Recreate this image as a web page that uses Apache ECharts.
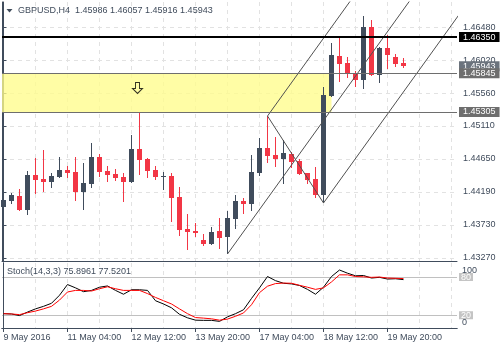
<!DOCTYPE html>
<html><head><meta charset="utf-8">
<script src="https://cdn.jsdelivr.net/npm/echarts@6/dist/echarts.min.js"></script>
<style>html,body{margin:0;padding:0;background:#fff}#c{width:500px;height:350px}</style>
</head><body><div id="c"></div>
<script>
const symbolName = 'GBPUSD,H4';
const barOpen = [1.43985,1.44069,1.44134,1.43939,1.44427,1.44371,1.44334,1.44403,1.44497,1.44469,1.44194,1.44306,1.44678,1.44483,1.44441,1.44399,1.44334,1.44789,1.44650,1.44497,1.44406,1.44413,1.44120,1.43674,1.43646,1.43521,1.43469,1.43646,1.43567,1.43818,1.44069,1.44016,1.44459,1.44803,1.44706,1.44654,1.44720,1.44626,1.44451,1.44375,1.44148,1.45528,1.46086,1.45988,1.45835,1.45751,1.46486,1.45821,1.46201,1.46072,1.45986];
const barHigh = [1.44172,1.44180,1.44232,1.44483,1.44660,1.44775,1.44451,1.44678,1.44552,1.44678,1.44598,1.44873,1.44720,1.44552,1.44511,1.44455,1.44985,1.45301,1.44664,1.44557,1.44469,1.44459,1.44260,1.43883,1.43758,1.43605,1.43702,1.43832,1.43925,1.44148,1.44113,1.44699,1.44947,1.45249,1.44957,1.44911,1.44748,1.44650,1.44459,1.44534,1.45649,1.46263,1.46358,1.46076,1.45877,1.46643,1.46588,1.46211,1.46378,1.46107,1.46057];
const barLow = [1.43823,1.44023,1.43932,1.43869,1.44162,1.44194,1.44246,1.44392,1.44385,1.44069,1.43939,1.44246,1.44403,1.44334,1.44343,1.44055,1.44320,1.44427,1.44389,1.44357,1.44218,1.43776,1.43581,1.43386,1.43563,1.43442,1.43451,1.43396,1.43326,1.43670,1.43883,1.43925,1.44413,1.44598,1.44543,1.44302,1.44525,1.44427,1.44306,1.44113,1.44037,1.45514,1.45730,1.45775,1.45654,1.45619,1.45807,1.45714,1.45905,1.45932,1.45916];
const barClose = [1.44079,1.44148,1.43939,1.44427,1.44357,1.44334,1.44413,1.44497,1.44459,1.44194,1.44315,1.44678,1.44473,1.44427,1.44389,1.44334,1.44789,1.44636,1.44483,1.44403,1.44413,1.44111,1.43665,1.43637,1.43619,1.43469,1.43628,1.43553,1.43832,1.44065,1.44016,1.44469,1.44803,1.44696,1.44654,1.44729,1.44615,1.44441,1.44357,1.44148,1.45542,1.46100,1.45974,1.45828,1.45751,1.46494,1.45821,1.46197,1.46100,1.45974,1.45943];
const stochK = [22.5,22,19.5,25,30,34,38.8,51.4,68.2,63,57,59,64,66,59,53,60,60,59,42.8,37.7,31.7,21.5,16,12.3,12,12,10.4,17.5,22.5,28.6,46.4,63,80.8,74.3,70.2,69.2,66.7,60.6,53,64,80.8,91,86,81.9,82.4,78.4,79.5,76.8,77.3,75.8961];
const stochD = [22.5,22,21,24,26.6,30,34,43.8,56.5,59,59,58,61.6,64.7,61.6,59,59,59,54,48,42.8,37.7,30,22.5,16.4,15.5,14.4,12.3,14,18.4,23.6,36.5,55.5,65.6,69.7,70.5,70.2,67,64,60.6,63,72.3,83.4,83.4,80.8,80.3,79.5,80,78.4,78,77.5201];
const timeTickBars = [0,8,16,24,32,40,48];
const timeTickLabels = ['9 May 2016','11 May 04:00','12 May 12:00','13 May 20:00','17 May 04:00','18 May 12:00','19 May 20:00'];
const gridBars = [0,4,8,12,16,20,24,28,32,36,40,44,48,52,56];
const priceTicks = [1.43270,1.43730,1.44190,1.44650,1.45110,1.45560,1.46020,1.46480];
const stochMax = 100;
const stochMin = 0;
const stochLevels = [20,80];
const resistance = 1.46350;
const zoneTop = 1.45845;
const zoneBottom = 1.45305;
const zoneEndBar = 41;
const lastPrice = 1.45943;
const pitchfork = [[28,1.43326],[33,1.45249],[40,1.44037]];
const arrowMark = [17,1.45640];

const FONT = '"Liberation Sans", Arial, sans-serif';
const SLATE = '#404c5c';
const RED = '#f23645';
const GRIDC = '#e2e2e2';
const NONE = 'rgba(0,0,0,0)';
const xMin = -0.1875, xMax = 56.6875;
const yMin = 1.432282, yMax = 1.468384;
const sMin = 0, sMax = 102;

const candles = barOpen.map((o,i)=>[i,o,barHigh[i],barLow[i],barClose[i]]);
const n = barClose.length - 1;
const mainTitle = symbolName + '  ' + [barOpen[n],barHigh[n],barLow[n],barClose[n]].map(v=>v.toFixed(5)).join(' ');
const stochTitle = 'Stoch(14,3,3) ' + stochK[n].toFixed(4) + ' ' + stochD[n].toFixed(4);

const P1 = pitchfork[0], P2 = pitchfork[1], P3 = pitchfork[2];
const mid = [(P2[0]+P3[0])/2, (P2[1]+P3[1])/2];
const slope = (mid[1]-P1[1])/(mid[0]-P1[0]);
const farX = 90;
const ext = p => [p, [farX, p[1] + slope*(farX - p[0])]];
const forkLines = [ext(P1), ext(P2), ext(P3), [P2, P3]];

function boxLabel(txt, bg){
  return {show:true, position:'end', distance:2, formatter:txt, color:'#fff', backgroundColor:bg,
    padding:[0,4,0,4], lineHeight:10, fontSize:9, fontFamily:FONT};
}
function plainLabel(txt, dy){
  return {show:true, position:'end', distance:5, formatter:txt, color:SLATE, fontSize:9, fontFamily:FONT, offset:[0,dy]};
}
function hiddenAxis(grid, pos, mn, mx){
  return {gridIndex:grid, type:'value', min:mn, max:mx, position:pos,
    axisLine:{show:true, lineStyle:{color:SLATE, width:1}}, axisTick:{show:false}, axisLabel:{show:false}, splitLine:{show:false}};
}

const chart = echarts.init(document.getElementById('c'), null, {renderer:'canvas'});
const option = {
  animation:false,
  textStyle:{fontFamily:FONT},
  title:[
    {text:mainTitle, left:18, top:5, padding:0, textStyle:{fontSize:9, fontWeight:'normal', color:SLATE, fontFamily:FONT, lineHeight:11}},
    {text:stochTitle, left:7, top:266.5, padding:0, textStyle:{fontSize:9, fontWeight:'normal', color:SLATE, fontFamily:FONT, lineHeight:11}}
  ],
  graphic:[{type:'polygon', shape:{points:[[6.5,9],[12.5,9],[9.5,12.5]]}, style:{fill:SLATE}}],
  grid:[
    {left:2, right:43, top:2, height:259},
    {left:2, right:43, top:263, height:65}
  ],
  xAxis:[
    {gridIndex:0, type:'value', min:xMin, max:xMax, position:'bottom',
      axisLine:{show:true, lineStyle:{color:SLATE, width:1}}, axisTick:{show:false, customValues:gridBars},
      axisLabel:{show:false}, splitLine:{show:true, lineStyle:{color:GRIDC, type:[4,4]}}},
    {gridIndex:1, type:'value', min:xMin, max:xMax, position:'bottom',
      axisLine:{show:true, lineStyle:{color:SLATE, width:1}},
      axisTick:{show:true, customValues:timeTickBars, length:4, lineStyle:{color:SLATE}},
      axisLabel:{show:true, customValues:timeTickBars, align:'left', margin:5, fontSize:9, color:SLATE, fontFamily:FONT,
        hideOverlap:false, formatter:v=>timeTickLabels[timeTickBars.indexOf(Math.round(v))] || ''},
      splitLine:{show:false}},
    {gridIndex:1, type:'value', min:xMin, max:xMax, position:'top',
      axisLine:{show:true, lineStyle:{color:SLATE, width:1}}, axisTick:{show:false, customValues:gridBars},
      axisLabel:{show:false}, splitLine:{show:true, lineStyle:{color:GRIDC, type:[4,4]}}}
  ],
  yAxis:[
    {gridIndex:0, type:'value', min:yMin, max:yMax, position:'right',
      axisLine:{show:true, lineStyle:{color:SLATE, width:1}},
      axisTick:{show:true, customValues:priceTicks, length:3, lineStyle:{color:SLATE}},
      axisLabel:{show:true, customValues:priceTicks, margin:6, fontSize:9, color:SLATE, fontFamily:FONT, hideOverlap:false, formatter:v=>v.toFixed(5)},
      splitLine:{show:true, lineStyle:{color:GRIDC, type:[4,4]}}},
    hiddenAxis(0, 'left', yMin, yMax),
    {gridIndex:1, type:'value', min:sMin, max:sMax, position:'right',
      axisLine:{show:true, lineStyle:{color:SLATE, width:1}},
      axisTick:{show:false, customValues:stochLevels},
      axisLabel:{show:true, customValues:stochLevels, margin:2, fontSize:9, fontFamily:FONT, hideOverlap:false,
        color:'#fff', backgroundColor:'#c4c4c4', lineHeight:8, padding:[0,2,0,2]},
      splitLine:{show:true, lineStyle:{color:'#c0c0c0', width:1, type:'solid'}}},
    hiddenAxis(1, 'left', sMin, sMax)
  ],
  series:[
    {type:'line', xAxisIndex:0, yAxisIndex:0, data:[], silent:true,
      markArea:{silent:true, itemStyle:{color:'rgba(255,253,140,0.78)'},
        data:[[{xAxis:xMin, yAxis:zoneBottom},{xAxis:zoneEndBar, yAxis:zoneTop}]]}
    },
    {type:'custom', xAxisIndex:0, yAxisIndex:0, data:candles, encode:{x:0, y:[1,2,3,4]},
      renderItem:function(params, api){
        const i = api.value(0), o = api.value(1), h = api.value(2), l = api.value(3), c = api.value(4);
        const pO = api.coord([i,o]), pC = api.coord([i,c]), pH = api.coord([i,h]), pL = api.coord([i,l]);
        const col = c >= o ? SLATE : RED;
        const px = Math.floor(pO[0]);
        const yTop = Math.round(Math.min(pO[1], pC[1]));
        const yBot = Math.round(Math.max(pO[1], pC[1]));
        const yH = Math.round(pH[1]), yL = Math.round(pL[1]);
        return {type:'group', children:[
          {type:'rect', shape:{x:px, y:yH, width:1, height:Math.max(1,yL-yH)}, style:{fill:col}},
          {type:'rect', shape:{x:px-2, y:yTop, width:5, height:Math.max(1,yBot-yTop)}, style:{fill:col}}
        ]};
      }
    },
    ...forkLines.map(seg=>({type:'line', xAxisIndex:0, yAxisIndex:0, data:seg, symbol:'none', clip:true,
      lineStyle:{color:'#505050', width:1}, silent:true})),
    {type:'line', xAxisIndex:0, yAxisIndex:0, data:[], silent:true,
      markLine:{silent:true, symbol:['none','none'], precision:5,
        data:[
          {yAxis:lastPrice, lineStyle:{color:NONE, width:1}, label:boxLabel(lastPrice.toFixed(5), '#6b737d')},
          {yAxis:resistance, lineStyle:{color:'#000', width:2, type:'solid'}, label:boxLabel(resistance.toFixed(5), '#000')},
          {yAxis:zoneTop, lineStyle:{color:'#6e6e6e', width:1, type:'solid'}, label:boxLabel(zoneTop.toFixed(5), '#6e6e6e')},
          {yAxis:zoneBottom, lineStyle:{color:'#6e6e6e', width:1, type:'solid'}, label:boxLabel(zoneBottom.toFixed(5), '#6e6e6e')}
        ]}
    },
    {type:'scatter', xAxisIndex:0, yAxisIndex:0, data:[arrowMark],
      symbol:'path://M3,0 H7 V6 H10 L5,11 L0,6 H3 Z', symbolSize:[10,11], symbolOffset:[-2,0],
      itemStyle:{color:NONE, borderColor:'#000', borderWidth:1}, silent:true},
    {type:'line', xAxisIndex:1, yAxisIndex:2, data:stochK.map((v,i)=>[i,v]), symbol:'none',
      lineStyle:{color:'#000', width:1}, silent:true},
    {type:'line', xAxisIndex:1, yAxisIndex:2, data:stochD.map((v,i)=>[i,v]), symbol:'none',
      lineStyle:{color:'#ff0000', width:1}, silent:true,
      markLine:{silent:true, symbol:['none','none'], precision:2,
        data:[
          {yAxis:stochMax, lineStyle:{color:NONE, width:1}, label:plainLabel(String(stochMax), 6)},
          {yAxis:stochMin, lineStyle:{color:NONE, width:1}, label:plainLabel(String(stochMin), -5)}
        ]}}
  ]
};
chart.setOption(option);
</script></body></html>
